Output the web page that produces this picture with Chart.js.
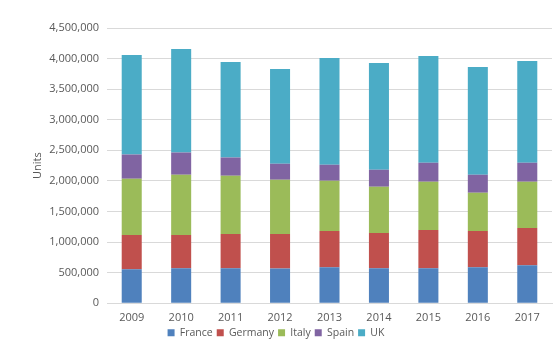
<!DOCTYPE html>
<html lang="en">
<head>
    <meta charset="UTF-8">
    <title>Units by country</title>
    <script src="https://cdn.jsdelivr.net/npm/chart.js"></script>
    <style>
        html, body {
            margin: 0;
            padding: 0;
            background: #fff;
        }
    </style>
</head>
<body>
<canvas id="chart" width="554" height="352"></canvas>
<script>
// Data
const years = ['2009', '2010', '2011', '2012', '2013', '2014', '2015', '2016', '2017'];
const france  = [556000, 572000, 572000, 567000, 589000, 572000, 572000, 589000, 622000];
const germany = [559000, 543000, 560000, 565000, 592000, 576000, 625000, 592000, 608000];
const italy   = [921000, 987000, 953000, 888000, 822000, 757000, 790000, 625000, 757000];
const spain   = [395000, 362000, 297000, 263000, 263000, 279000, 312000, 296000, 312000];
const uk      = [1628000, 1694000, 1562000, 1546000, 1744000, 1744000, 1744000, 1760000, 1661000];

const textColor = '#595959';
const gridColor = '#d9d9d9';
const font = { family: '"Open Sans", sans-serif', size: 11 };

function series(label, data, color) {
    return {
        label: label,
        data: data,
        backgroundColor: color,
        borderWidth: 0,
        barPercentage: 0.405,
        categoryPercentage: 1
    };
}

new Chart(document.getElementById('chart'), {
    type: 'bar',
    data: {
        labels: years,
        datasets: [
            series('France', france, '#4f81bd'),
            series('Germany', germany, '#c0504d'),
            series('Italy', italy, '#9bbb59'),
            series('Spain', spain, '#8064a2'),
            series('UK', uk, '#4bacc6')
        ]
    },
    options: {
        responsive: false,
        devicePixelRatio: 1,
        animation: false,
        layout: {
            padding: { top: 28, right: 2, left: 0, bottom: 4 }
        },
        plugins: {
            tooltip: { enabled: false },
            legend: {
                position: 'bottom',
                labels: {
                    boxWidth: 7,
                    boxHeight: 7,
                    padding: 4,
                    color: textColor,
                    font: { family: font.family, size: 10.5 }
                }
            }
        },
        scales: {
            x: {
                stacked: true,
                grid: { display: false, drawTicks: false },
                border: { display: true, color: gridColor },
                ticks: { color: textColor, font: font, padding: 8 },
                // pull the plot area down so tick labels sit close to the legend
                afterFit: scale => { scale.height = scale.height - 9; }
            },
            y: {
                stacked: true,
                min: 0,
                max: 4500000,
                grid: { color: gridColor, drawTicks: false },
                border: { display: false },
                ticks: {
                    stepSize: 500000,
                    color: textColor,
                    font: font,
                    padding: 8,
                    callback: v => v.toLocaleString('en-US')
                },
                title: {
                    display: true,
                    text: 'Units',
                    color: textColor,
                    font: font,
                    padding: { top: 31, bottom: 0 }
                },
                afterFit: scale => { scale.width = 107; }
            }
        }
    }
});
</script>
</body>
</html>
